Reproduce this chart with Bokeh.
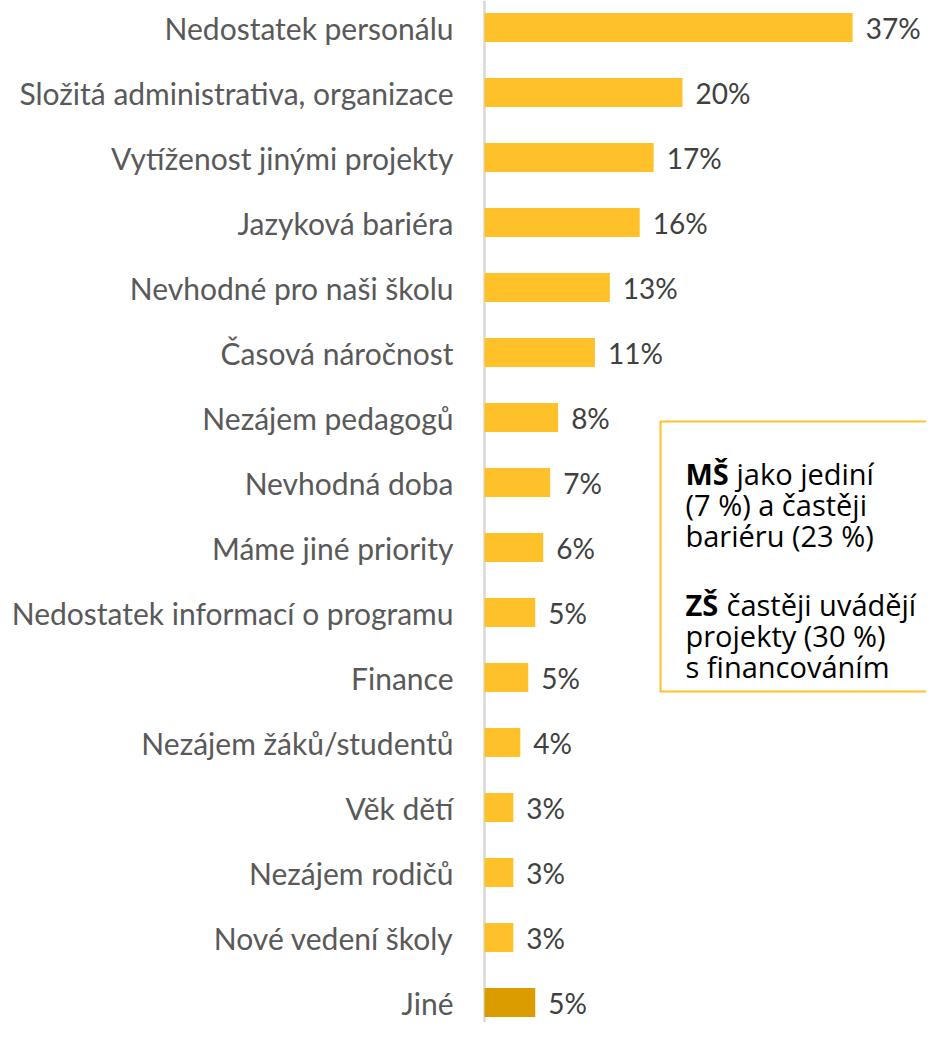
from bokeh.plotting import figure
from bokeh.models import Range1d, Span, ColumnDataSource
from bokeh.core.properties import value
from bokeh.embed import file_html
from bokeh.resources import INLINE

# ---------------- data ----------------
categories = [
    "Nedostatek personálu",
    "Složitá administrativa, organizace",
    "Vytíženost jinými projekty",
    "Jazyková bariéra",
    "Nevhodné pro naši školu",
    "Časová náročnost",
    "Nezájem pedagogů",
    "Nevhodná doba",
    "Máme jiné priority",
    "Nedostatek informací o programu",
    "Finance",
    "Nezájem žáků/studentů",
    "Věk dětí",
    "Nezájem rodičů",
    "Nové vedení školy",
    "Jiné",
]
shares = [37.0, 19.9, 17.0, 15.6, 12.6, 11.1, 7.4, 6.6, 5.9, 5.1, 4.4, 3.6, 2.9, 2.9, 2.9, 5.1]
share_labels = ["37%", "20%", "17%", "16%", "13%", "11%", "8%", "7%", "6%",
                "5%", "5%", "4%", "3%", "3%", "3%", "5%"]

note_bold = ["MŠ", "ZŠ"]
note_rest_first = ["jako jediní", "častěji uvádějí"]
note_lines = ["(7 %) a častěji", "bariéru (23 %)", "projekty (30 %)", "s financováním"]

# ---------------- layout helpers (pixels -> data) ----------------
W, H = 926, 1022
X0 = 484.0          # pixel x of value 0
PX = 9.95           # pixels per percentage point
ROW0 = 27.0         # pixel y of first row centre
ROW = 65.0          # pixels per row


def dx(px):
    return (px - X0) / PX


def dy(py):
    return (py - ROW0) / ROW


MAIN = "#FFC12A"
OTHER = "#DB9C00"

p = figure(width=W, height=H,
           x_range=Range1d(dx(0), dx(W)),
           y_range=Range1d(dy(H), dy(0)),
           output_backend="svg", toolbar_location=None,
           x_axis_location=None, y_axis_location=None,
           min_border=0, outline_line_color=None)
p.grid.visible = False
p.background_fill_color = "white"

idx = list(range(len(categories)))
src = ColumnDataSource(dict(
    y=idx, share=shares, cat=categories, lab=share_labels,
    color=[OTHER if c == "Jiné" else MAIN for c in categories],
))

p.add_layout(Span(location=0, dimension="height", line_color="#D9D9D9",
                  line_width=2.5, level="underlay"))

p.hbar(y="y", left=0, right="share", height=29 / ROW, fill_color="color",
       line_color=None, source=src)

p.text(x=0, y="y", text="cat", source=src, x_offset=-31,
       text_align="right", text_baseline="middle",
       text_font=value("Lato"), text_font_size="30px", text_color="#595959")

p.text(x="share", y="y", text="lab", source=src, x_offset=13,
       text_align="left", text_baseline="middle",
       text_font=value("Lato"), text_font_size="28px", text_color="#404040")

# ---------------- note box ----------------
BOX_L = 660
TX = 685
p.quad(left=[dx(BOX_L)], right=[dx(1100)], top=[dy(421)], bottom=[dy(691)],
       fill_color="white", line_color="#FFC12A", line_width=2)

FS = "29px"
p.text(x=[dx(TX)] * 2, y=[dy(473), dy(604)], text=note_bold,
       text_font=value("Open Sans"), text_font_style="bold",
       text_font_size=FS, text_color="#000000",
       text_align="left", text_baseline="alphabetic")
p.text(x=[dx(TX + 51), dx(TX + 41)], y=[dy(473), dy(604)], text=note_rest_first,
       text_font=value("Open Sans"), text_font_size=FS, text_color="#000000",
       text_align="left", text_baseline="alphabetic")
p.text(x=[dx(TX)] * 4, y=[dy(v) for v in [504, 535, 635, 666]], text=note_lines,
       text_font=value("Open Sans"), text_font_size=FS, text_color="#000000",
       text_align="left", text_baseline="alphabetic")

open("out.html", "w").write(file_html(p, INLINE))
